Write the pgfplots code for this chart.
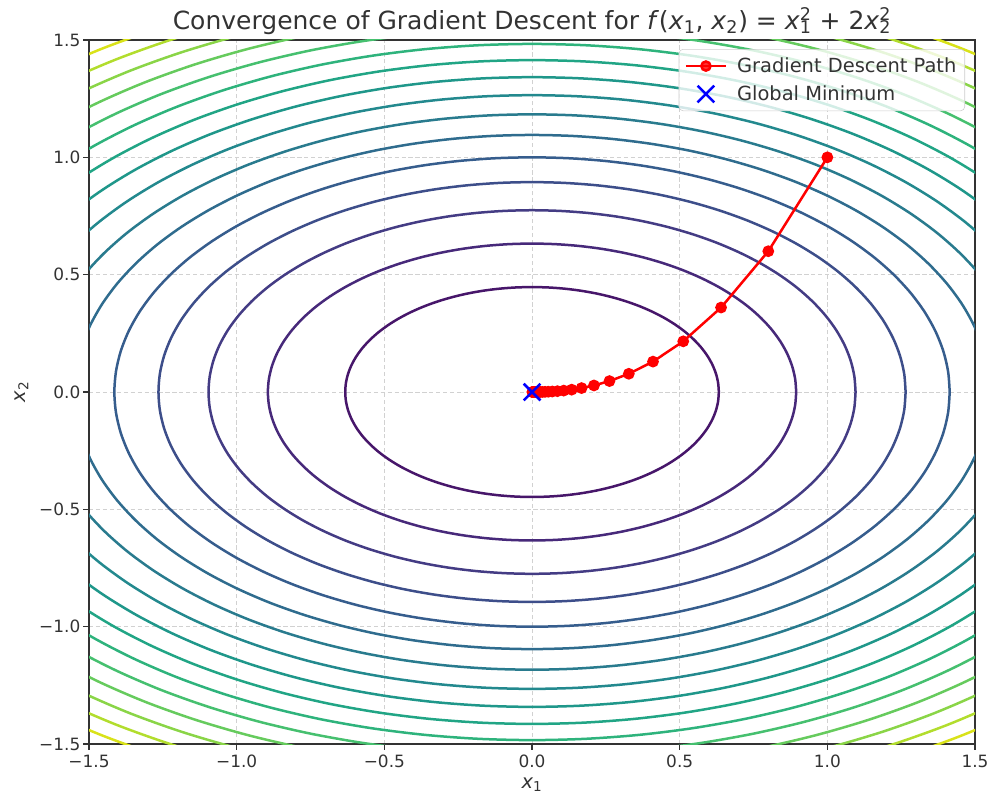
\documentclass[border=0pt]{standalone}
\usepackage{fontspec}
\setmainfont{DejaVu Sans}
\usepackage{pgfplots}
\pgfplotsset{compat=1.18}
\usepackage{pgfplotstable}

% viridis, levels 0.4 ... 6.4 (norm 0 .. 6.8)
\definecolor{v1}{HTML}{47166A}
\definecolor{v2}{HTML}{47297A}
\definecolor{v3}{HTML}{443C84}
\definecolor{v4}{HTML}{3D4E8A}
\definecolor{v5}{HTML}{365D8D}
\definecolor{v6}{HTML}{2F6C8E}
\definecolor{v7}{HTML}{297B8E}
\definecolor{v8}{HTML}{23898E}
\definecolor{v9}{HTML}{1F978A}
\definecolor{v10}{HTML}{21A585}
\definecolor{v11}{HTML}{2EB37C}
\definecolor{v12}{HTML}{46C06F}
\definecolor{v13}{HTML}{66CB5D}
\definecolor{v14}{HTML}{8AD547}
\definecolor{v15}{HTML}{B2DD2D}
\definecolor{v16}{HTML}{D9E219}
\definecolor{txt}{HTML}{333333}

% unit circle, every 5 degrees
\pgfplotstableread{
c s
1.0000 0.0000
0.9962 0.0872
0.9848 0.1736
0.9659 0.2588
0.9397 0.3420
0.9063 0.4226
0.8660 0.5000
0.8192 0.5736
0.7660 0.6428
0.7071 0.7071
0.6428 0.7660
0.5736 0.8192
0.5000 0.8660
0.4226 0.9063
0.3420 0.9397
0.2588 0.9659
0.1736 0.9848
0.0872 0.9962
0.0000 1.0000
-0.0872 0.9962
-0.1736 0.9848
-0.2588 0.9659
-0.3420 0.9397
-0.4226 0.9063
-0.5000 0.8660
-0.5736 0.8192
-0.6428 0.7660
-0.7071 0.7071
-0.7660 0.6428
-0.8192 0.5736
-0.8660 0.5000
-0.9063 0.4226
-0.9397 0.3420
-0.9659 0.2588
-0.9848 0.1736
-0.9962 0.0872
-1.0000 0.0000
-0.9962 -0.0872
-0.9848 -0.1736
-0.9659 -0.2588
-0.9397 -0.3420
-0.9063 -0.4226
-0.8660 -0.5000
-0.8192 -0.5736
-0.7660 -0.6428
-0.7071 -0.7071
-0.6428 -0.7660
-0.5736 -0.8192
-0.5000 -0.8660
-0.4226 -0.9063
-0.3420 -0.9397
-0.2588 -0.9659
-0.1736 -0.9848
-0.0872 -0.9962
0.0000 -1.0000
0.0872 -0.9962
0.1736 -0.9848
0.2588 -0.9659
0.3420 -0.9397
0.4226 -0.9063
0.5000 -0.8660
0.5736 -0.8192
0.6428 -0.7660
0.7071 -0.7071
0.7660 -0.6428
0.8192 -0.5736
0.8660 -0.5000
0.9063 -0.4226
0.9397 -0.3420
0.9659 -0.2588
0.9848 -0.1736
0.9962 -0.0872
1.0000 0.0000
}\unitcirc

% gradient descent iterates
\pgfplotstableread{
x y
1.000000 1.000000
0.800000 0.600000
0.640000 0.360000
0.512000 0.216000
0.409600 0.129600
0.327680 0.077760
0.262144 0.046656
0.209715 0.027994
0.167772 0.016796
0.134218 0.010078
0.107374 0.006047
0.085899 0.003628
0.068719 0.002177
0.054976 0.001306
0.043980 0.000784
0.035184 0.000470
0.028147 0.000282
0.022518 0.000169
0.018014 0.000102
0.014412 0.000061
0.011529 0.000037
0.009223 0.000022
0.007379 0.000013
0.005903 0.000008
0.004722 0.000005
0.003778 0.000003
0.003022 0.000002
0.002418 0.000001
0.001934 0.000001
0.001547 0.000000
}\gdpath

% one contour: semi-axes along x1 and x2, colour
\newcommand{\lev}[3]{\addplot[color=#3, line width=1.8pt, smooth, forget plot]
  table[x expr={\thisrow{c}*#1}, y expr={\thisrow{s}*#2}] {\unitcirc};}

\newcommand{\xsq}[1]{\textit{x}\makebox[0pt][l]{\textsuperscript{2}}\textsubscript{#1}}

\begin{document}
\begin{tikzpicture}
\begin{axis}[
  scale only axis, width=637.9pt, height=506.9pt,
  xmin=-1.5, xmax=1.5, ymin=-1.5, ymax=1.5,
  xtick={-1.5,-1,-0.5,0,0.5,1,1.5},
  ytick={-1.5,-1,-0.5,0,0.5,1,1.5},
  xticklabels={−1.5,−1.0,−0.5,0.0,0.5,1.0,1.5},
  yticklabels={−1.5,−1.0,−0.5,0.0,0.5,1.0,1.5},
  tick align=outside, tick pos=left, major tick length=4.2pt,
  tick style={line width=0.9pt, color=txt},
  axis line style={line width=0.9pt, color=txt},
  grid=major,
  major grid style={dash pattern=on 3pt off 2pt, line width=0.6pt, color=black!18},
  ticklabel style={font=\fontsize{12.2}{14}\selectfont, text=txt},
  yticklabel style={xshift=1.5pt},
  xlabel={\textit{x}\textsubscript{1}},
  ylabel={\textit{x}\textsubscript{2}},
  label style={font=\fontsize{14}{16}\selectfont, text=txt},
  xlabel style={at={([yshift=-31.7pt]axis description cs:0.5,0)}, anchor=base},
  ylabel style={at={([xshift=-46pt]axis description cs:0,0.5)}, anchor=base},
  title={Convergence of Gradient Descent for \textit{f}(\textit{x}\textsubscript{1}, \textit{x}\textsubscript{2}) = \xsq{1} + 2\xsq{2}},
  every axis title/.style={at={([yshift=7.9pt]axis description cs:0.5,1)}, anchor=base,
    font=\fontsize{18}{20}\selectfont, text=txt},
  legend style={at={([xshift=-7.2pt,yshift=-6.5pt]axis description cs:1,1)}, anchor=north east,
    draw=black!20, rounded corners=3pt, fill=white, fill opacity=0.8, text opacity=1,
    font=\fontsize{14}{16}\selectfont, text=txt, inner xsep=4pt, inner ysep=4pt,
    row sep=4pt},
  legend cell align=left,
  legend image code/.code={\draw[mark repeat=2, mark phase=2] plot coordinates {(0pt,0pt) (14.5pt,0pt) (29pt,0pt)};},
]
\coordinate (bbsw) at (rel axis cs:0,0);
\coordinate (bbne) at (rel axis cs:1,1);
\lev{0.6325}{0.4472}{v1}
\lev{0.8944}{0.6325}{v2}
\lev{1.0954}{0.7746}{v3}
\lev{1.2649}{0.8944}{v4}
\lev{1.4142}{1.0000}{v5}
\lev{1.5492}{1.0954}{v6}
\lev{1.6733}{1.1832}{v7}
\lev{1.7889}{1.2649}{v8}
\lev{1.8974}{1.3416}{v9}
\lev{2.0000}{1.4142}{v10}
\lev{2.0976}{1.4832}{v11}
\lev{2.1909}{1.5492}{v12}
\lev{2.2804}{1.6125}{v13}
\lev{2.3664}{1.6733}{v14}
\lev{2.4495}{1.7321}{v15}
\lev{2.5298}{1.7889}{v16}

\addplot[color=red, line width=1.8pt, mark=*, mark size=3.3pt, mark options={solid, fill=red}]
  table[x=x, y=y] {\gdpath};
\addlegendentry{\hspace{5pt}Gradient Descent Path}

\addplot[color=blue, only marks, mark=x, mark size=8.5pt, line width=1.8pt]
  coordinates {(0,0)};
\addlegendentry{\hspace{5pt}Global Minimum}
\end{axis}
\pgfresetboundingbox
\path ([shift={(-64.1pt,-37.4pt)}]bbsw) rectangle ([shift={(11.5pt,28.8pt)}]bbne);
\end{tikzpicture}
\end{document}
